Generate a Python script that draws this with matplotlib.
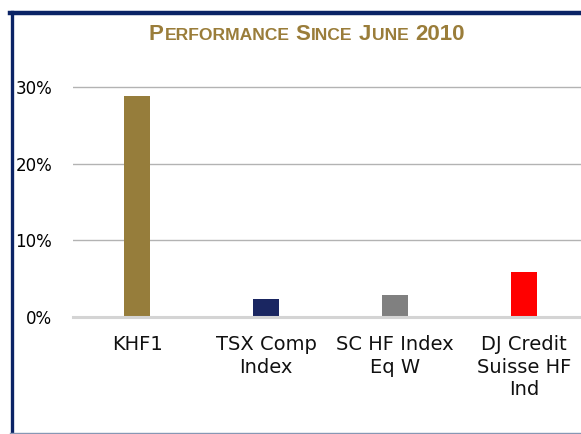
import matplotlib
matplotlib.use("Agg")
import matplotlib.pyplot as plt
from matplotlib import font_manager
from matplotlib.lines import Line2D

categories = ["KHF1", "TSX Comp\nIndex", "SC HF Index\nEq W", "DJ Credit\nSuisse HF\nInd"]
performance = [0.2885, 0.0231, 0.0284, 0.0584]
bar_colors = ["#967D3B", "#1A2661", "#808080", "#FF0000"]
y_ticks = [0.0, 0.10, 0.20, 0.30]
y_tick_labels = ["0%", "10%", "20%", "30%"]

# title written in small caps: (text, big?) pieces
title_parts = [("P", True), ("ERFORMANCE", False), (" ", False), ("S", True), ("INCE", False),
               (" ", False), ("J", True), ("UNE", False), (" ", False), ("2010", True)]

W, H = 581, 434
fig = plt.figure(figsize=(W / 100, H / 100), dpi=100)

# axes placement in pixels
ax_left, ax_right = 72.5, 581
y0_px, y30_px = 316.7, 87.3
ytop = 0.31
px_per_unit = (y0_px - y30_px) / 0.30
top_px = y0_px - ytop * px_per_unit
ax = fig.add_axes([ax_left / W, (H - y0_px) / H, (ax_right - ax_left) / W, (y0_px - top_px) / H])

x = range(len(categories))
ax.bar(x, performance, width=0.205, color=bar_colors, zorder=3)

ax.set_xlim(-0.5, (ax_right - 137) / 129)
ax.set_ylim(0, ytop)
for v in y_ticks[1:]:
    ax.axhline(v, color="#b3b3b3", lw=1.0, zorder=1)
ax.axhline(0, color="#d4d4d4", lw=2.2, zorder=4, clip_on=False)

ax.set_yticks(y_ticks)
ax.set_yticklabels(y_tick_labels, fontsize=12, family="DejaVu Sans", color="#000000")
ax.set_xticks(list(x))
ax.set_xticklabels(categories, fontsize=14, family="DejaVu Sans", linespacing=1.25, color="#111111")
ax.tick_params(axis="y", length=0, pad=14.5)
ax.tick_params(axis="x", length=0, pad=13)
for s in ax.spines.values():
    s.set_visible(False)
ax.set_facecolor("none")

# frame around chart
navy = "#0B2466"
fig.add_artist(Line2D([10 / W, 1.0], [(H - 13) / H] * 2, transform=fig.transFigure, color=navy, lw=3.2))
fig.add_artist(Line2D([11.5 / W] * 2, [0, (H - 11.5) / H], transform=fig.transFigure, color=navy, lw=2.4))
fig.add_artist(Line2D([10 / W, 1.0], [(H - 433) / H] * 2, transform=fig.transFigure, color="#8797B4", lw=1.0))

# small-caps title
names = {f.name for f in font_manager.fontManager.ttflist}
tfont = "Liberation Sans Narrow" if "Liberation Sans Narrow" in names else "Liberation Sans"
gold = "#9A7D3A"
fig.canvas.draw()
renderer = fig.canvas.get_renderer()
texts = []
xpos = 0.0
title_y = (H - 40) / H
for txt, big in title_parts:
    size = 16 if big else 12.6
    if txt == " ":
        t = fig.text(xpos / W, title_y, "x", fontsize=size, family=tfont, weight="bold", color=gold)
        wpx = t.get_window_extent(renderer).width * 0.55
        t.remove()
        xpos += wpx
        continue
    t = fig.text(xpos / W, title_y, txt, fontsize=size, family=tfont, weight="bold",
                 color=gold, ha="left", va="baseline")
    wpx = t.get_window_extent(renderer).width
    texts.append((t, xpos))
    xpos += wpx + 0.8
shift = 307 - xpos / 2
for t, xp in texts:
    t.set_x((xp + shift) / W)

fig.savefig("out.png", dpi=100)
